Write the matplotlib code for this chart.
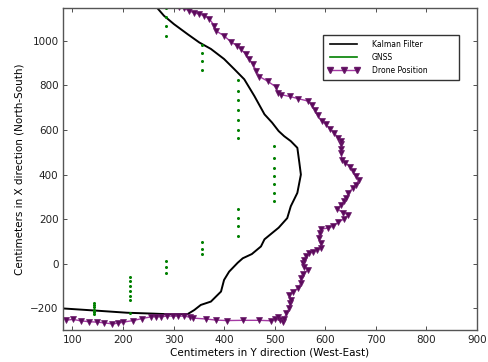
import matplotlib
matplotlib.use('Agg')
import matplotlib.pyplot as plt
from matplotlib.lines import Line2D


# Kalman filter estimate (Y, X) in cm
kalman_y = [83, 150, 208, 260, 294, 328, 341, 354, 374, 394, 400, 410, 427, 437,
            455, 473, 480, 495, 508, 525, 532, 545, 552, 549, 545, 532, 519, 508,
            495, 480, 460, 440, 420, 400, 374, 351, 328, 301, 281, 268]
kalman_x = [-200, -210, -219, -223, -226, -225, -207, -184, -169, -124, -72, -35,
            5, 25, 44, 78, 110, 138, 162, 205, 258, 318, 400, 453, 520, 550, 572,
            595, 633, 670, 752, 827, 873, 918, 963, 992, 1029, 1074, 1112, 1146]

# GNSS fixes
gnss_y = [142] * 6 + [213] * 7 + [285] * 7 + [356] * 7 + [427] * 11 + [499] * 7
gnss_x = [-175, -185, -195, -205, -215, -225,
          -57, -78, -100, -121, -143, -163, -222,
          15, -12, -40, 1146, 1104, 1066, 1022,
          99, 67, 42, 981, 944, 907, 867,
          246, 205, 168, 126, 824, 774, 733, 689, 644, 601, 565,
          527, 475, 430, 392, 358, 318, 280]

# true drone position
drone_y = [88, 101, 116, 132, 148, 162, 179, 190, 201, 220, 238, 256, 266, 276,
           287, 298, 308, 320, 333, 339, 364, 384, 406, 437, 470, 493, 501, 511,
           516, 506, 519, 523, 529, 531, 533, 529, 536, 546, 552, 552, 556, 566,
           559, 556, 558, 562, 569, 576, 584, 592, 591, 587, 589, 591, 605, 615,
           626, 637, 646, 635, 624, 632, 637, 642, 646, 655, 661, 667, 661, 655,
           649, 640, 633, 632, 632, 632, 631, 625, 618, 609, 602, 593, 585, 580,
           574, 567, 547, 530, 513, 507, 503, 486, 470, 464, 457, 450, 443, 433,
           425, 413, 400, 384, 381, 371, 361, 351, 341, 331, 321, 310]
drone_x = [-252, -249, -255, -259, -261, -264, -269, -266, -261, -254, -245, -237,
           -237, -237, -234, -234, -234, -234, -239, -243, -247, -252, -254, -253,
           -253, -255, -249, -252, -259, -240, -246, -222, -199, -177, -160, -139,
           -124, -110, -87, -64, -45, -27, -12, 3, 18, 33, 48, 55, 63, 72, 93, 116,
           138, 156, 160, 168, 186, 201, 220, 230, 246, 265, 280, 295, 318, 340,
           355, 378, 392, 415, 435, 453, 467, 497, 515, 535, 550, 565, 587, 605,
           625, 640, 665, 689, 710, 729, 740, 750, 758, 767, 792, 819, 839, 864,
           894, 917, 940, 962, 978, 996, 1022, 1044, 1067, 1097, 1112, 1119, 1124,
           1134, 1145, 1152]

plt.rcParams['font.family'] = 'DejaVu Sans'
plt.rcParams['font.size'] = 7.5
plt.rcParams['xtick.direction'] = 'in'
plt.rcParams['ytick.direction'] = 'in'
plt.rcParams['xtick.top'] = True
plt.rcParams['ytick.right'] = True

fig = plt.figure(figsize=(4.89, 3.62), dpi=100)
ax = fig.add_axes([0.1295, 0.088, 0.8455, 0.889])

ax.plot(kalman_y, kalman_x, color='black', linewidth=1.4)
ax.plot(gnss_y, gnss_x, linestyle='none', marker='o', markersize=2.2,
        color='#008000', markeredgewidth=0)
ax.plot(drone_y, drone_x, color='#a43aa4', linewidth=1.0, marker='v',
        markersize=4.3, markerfacecolor='#5c0a5c', markeredgecolor='#6a1a6a',
        markeredgewidth=0.5)

ax.set_xlim(82, 900)
ax.set_ylim(-297, 1145)
ax.set_xticks(range(100, 901, 100))
ax.set_yticks(range(-200, 1001, 200))
ax.tick_params(length=3, width=0.6, colors='#333333', labelcolor='#222222')
for s in ax.spines.values():
    s.set_linewidth(1.0)
    s.set_color('#555555')

ax.set_xlabel('Centimeters in Y direction (West-East)', labelpad=2)
ax.set_ylabel('Centimeters in X direction (North-South)', labelpad=4)

handles = [
    Line2D([], [], color='black', linewidth=1.2),
    Line2D([], [], color='#008000', linewidth=1.2),
    Line2D([], [], color='#a43aa4', linewidth=1.0, marker='v', markersize=4,
           markerfacecolor='#5c0a5c', markeredgecolor='#6a1a6a'),
]
leg = ax.legend(handles, ['Kalman Filter', 'GNSS', 'Drone Position'],
                loc='upper left', bbox_to_anchor=(0.629, 0.5, 0.328, 0.417),
                mode='expand', borderaxespad=0, fontsize=5.5, handlelength=4.1,
                handletextpad=1.6, labelspacing=0.55, borderpad=0.6,
                numpoints=3, fancybox=False, framealpha=1)
leg.get_frame().set_edgecolor('#333333')
leg.get_frame().set_linewidth(1.0)

fig.savefig('out.png', dpi=100)
